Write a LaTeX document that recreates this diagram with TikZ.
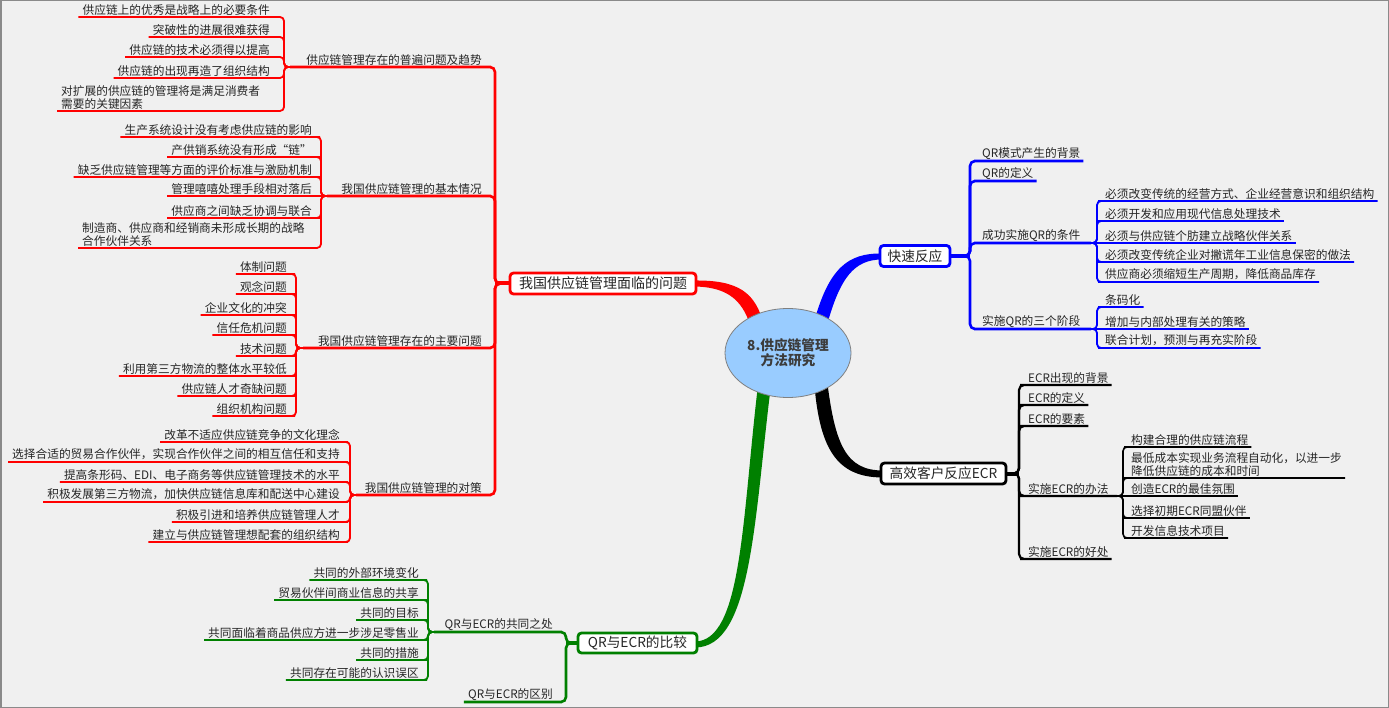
\documentclass[tikz,border=0pt]{standalone}
\usepackage{fontspec}
\setmainfont{Noto Sans CJK SC}
\usetikzlibrary{shapes.geometric}
\definecolor{bg}{HTML}{F0F0F0}
\definecolor{framec}{HTML}{8A8A8A}
\definecolor{txt}{HTML}{262626}
\definecolor{cred}{HTML}{FF0000}
\definecolor{cblue}{HTML}{0000FF}
\definecolor{cgreen}{HTML}{008000}
\definecolor{cblack}{HTML}{000000}
\definecolor{centerfill}{HTML}{99CCFF}
\definecolor{centerline}{HTML}{808080}
\tikzset{
  every node/.style={text=txt},
  lf/.style={inner xsep=4pt, inner ysep=1.6pt, font=\fontsize{11.7pt}{12.5pt}\selectfont, align=left},
  lfL/.style={lf, anchor=south east},
  lfL2/.style={lf, anchor=south west},
  lfR/.style={lf, anchor=south west, inner xsep=3pt},
  leafline/.style={line width=1.8pt, rounded corners=4pt},
  lvlline/.style={line width=2.6pt, rounded corners=5pt},
  stemline/.style={line width=4pt},
  mbox/.style={draw, fill=white, line width=2.8pt, rounded corners=3.5pt, inner sep=0pt, font=\fontsize{13.7pt}{14pt}\selectfont},
}
\begin{document}
\begin{tikzpicture}[x=1pt,y=-1pt]
\useasboundingbox (0,0) rectangle (1389,708);
\fill[bg] (0,0) rectangle (1389,708);
\draw[framec,line width=1.5pt] (0.75,0.75) rectangle (1388.25,707.25);

% ---------- thick main branches ----------
\fill[cred] (694,280.5) .. controls (738,280) and (756,292) .. (764,326) -- (752,331) .. controls (744,302) and (730,287) .. (694,286.5) -- cycle;
\fill[cblue] (882,253.5) .. controls (848,253) and (829,268) .. (814,322) -- (827,325) .. controls (840,278) and (854,259.5) .. (882,259.5) -- cycle;
\fill[cblack] (814,380) .. controls (819,448) and (836,477.5) .. (883,477.5) -- (883,470.5) .. controls (846,470.5) and (835,445) .. (827,380) -- cycle;
\fill[cgreen] (758,385) .. controls (742,520) and (742,641) .. (695,641.5) -- (695,647.5) .. controls (752,647.5) and (754,520) .. (771,385) -- cycle;

% ---------- central topic ----------
\node[ellipse, draw=centerline, line width=0.8pt, fill=centerfill, minimum width=126pt, minimum height=89pt, inner sep=0pt, align=center, font=\fontsize{13.7pt}{14.5pt}\selectfont\bfseries, text=txt!90] (C) at (788,353) {8.供应链管理\\方法研究};

% ---------- main boxes ----------
\node[mbox, draw=cred, minimum width=186pt, minimum height=21pt, font=\fontsize{14pt}{15pt}\selectfont] (R) at (603,283.5) {我国供应链管理面临的问题};
\node[mbox, draw=cblue, minimum width=70pt, minimum height=21pt] (B) at (915,256) {快速反应};
\node[mbox, draw=cblack, minimum width=125pt, minimum height=21pt] (K) at (943.5,473.5) {高效客户反应ECR};
\node[mbox, draw=cgreen, minimum width=119pt, minimum height=20pt] (G) at (637.5,643) {QR与ECR的比较};

% ---------- junction coordinates ----------
\coordinate (TR) at (495,283.5);
\coordinate (T1) at (284,67);   \coordinate (J1) at (290,67);
\coordinate (T2) at (321,196);  \coordinate (J2) at (327,196);
\coordinate (T3) at (296,348);  \coordinate (J3) at (303,348);
\coordinate (T4) at (350,495);  \coordinate (J4) at (356,495);
\coordinate (TB) at (970,256);
\coordinate (JQ3) at (1091,243); \coordinate (TQ3) at (1097,243);
\coordinate (JQ4) at (1091,329); \coordinate (TQ4) at (1097,329);
\coordinate (TK) at (1019,473.5);
\coordinate (JE4) at (1117,496); \coordinate (TE4) at (1123,496);
\coordinate (TG) at (566,643);
\coordinate (TG1) at (428,632);  \coordinate (JG1) at (434,632);

% ---------- red: level 1 ----------
\node[lfL] (P1) at (486,67) {供应链管理存在的普遍问题及趋势};
\node[lfL] (P2) at (486,196) {我国供应链管理的基本情况};
\node[lfL] (P3) at (486,348) {我国供应链管理存在的主要问题};
\node[lfL] (P4) at (486,495) {我国供应链管理的对策};

% red group 1
\node[lfL] (a1) at (274,17) {供应链上的优秀是战略上的必要条件};
\node[lfL] (a2) at (274,37) {突破性的进展很难获得};
\node[lfL] (a3) at (274,57) {供应链的技术必须得以提高};
\node[lfL] (a4) at (274,78) {供应链的出现再造了组织结构};
\node[lfL2] (a5) at (57,111) {对扩展的供应链的管理将是满足消费者\\需要的关键因素};
% red group 2
\node[lfL] (b1) at (316,137) {生产系统设计没有考虑供应链的影响};
\node[lfL] (b2) at (316,157) {产供销系统没有形成“链”};
\node[lfL] (b3) at (316,177) {缺乏供应链管理等方面的评价标准与激励机制};
\node[lfL] (b4) at (316,196) {管理嘻嘻处理手段相对落后};
\node[lfL] (b5) at (316,218) {供应商之间缺乏协调与联合};
\node[lfL2] (b6) at (78,248) {制造商、供应商和经销商未形成长期的战略\\合作伙伴关系};
% red group 3
\node[lfL] (c1) at (291,274) {体制问题};
\node[lfL] (c2) at (291,294) {观念问题};
\node[lfL] (c3) at (291,315) {企业文化的冲突};
\node[lfL] (c4) at (291,335) {信任危机问题};
\node[lfL] (c5) at (291,356) {技术问题};
\node[lfL] (c6) at (291,376) {利用第三方物流的整体水平较低};
\node[lfL] (c7) at (291,396) {供应链人才奇缺问题};
\node[lfL] (c8) at (291,416) {组织机构问题};
% red group 4
\node[lfL] (d1) at (344,442) {改革不适应供应链竞争的文化理念};
\node[lfL] (d2) at (344,462) {选择合适的贸易合作伙伴，实现合作伙伴之间的相互信任和支持};
\node[lfL] (d3) at (344,482) {提高条形码、EDI、电子商务等供应链管理技术的水平};
\node[lfL] (d4) at (344,502) {积极发展第三方物流，加快供应链信息库和配送中心建设};
\node[lfL] (d5) at (344,522) {积极引进和培养供应链管理人才};
\node[lfL] (d6) at (344,542) {建立与供应链管理想配套的组织结构};

% ---------- green ----------
\node[lfL] (g1) at (557,632) {QR与ECR的共同之处};
\node[lfL] (g2) at (557,702) {QR与ECR的区别};
\node[lfL] (h1) at (423,580) {共同的外部环境变化};
\node[lfL] (h2) at (423,600) {贸易伙伴间商业信息的共享};
\node[lfL] (h3) at (423,620) {共同的目标};
\node[lfL] (h4) at (423,640) {共同面临着商品供应方进一步涉足零售业};
\node[lfL] (h5) at (423,660) {共同的措施};
\node[lfL] (h6) at (423,680) {共同存在可能的认识误区};

% ---------- blue ----------
\node[lfR] (q1) at (979,161) {QR模式产生的背景};
\node[lfR] (q2) at (979,181) {QR的定义};
\node[lfR] (q3) at (979,243) {成功实施QR的条件};
\node[lfR] (q4) at (979,329) {实施QR的三个阶段};
\node[lfR] (r1) at (1102,201) {必须改变传统的经营方式、企业经营意识和组织结构};
\node[lfR] (r2) at (1102,221) {必须开发和应用现代信息处理技术};
\node[lfR] (r3) at (1102,243) {必须与供应链个肪建立战略伙伴关系};
\node[lfR] (r4) at (1102,262) {必须改变传统企业对撇谎年工业信息保密的做法};
\node[lfR] (r5) at (1102,282) {供应商必须缩短生产周期，降低商品库存};
\node[lfR] (s1) at (1102,307) {条码化};
\node[lfR] (s2) at (1102,329) {增加与内部处理有关的策略};
\node[lfR] (s3) at (1102,348) {联合计划，预测与再充实阶段};

% ---------- black ----------
\node[lfR] (e1) at (1025,385) {ECR出现的背景};
\node[lfR] (e2) at (1025,405) {ECR的定义};
\node[lfR] (e3) at (1025,426) {ECR的要素};
\node[lfR] (e4) at (1025,496) {实施ECR的办法};
\node[lfR] (e5) at (1025,559) {实施ECR的好处};
\node[lfR] (f1) at (1128,447) {构建合理的供应链流程};
\node[lfR] (f2) at (1128,478) {最低成本实现业务流程自动化，以进一步\\降低供应链的成本和时间};
\node[lfR] (f3) at (1128,496) {创造ECR的最佳氛围};
\node[lfR] (f4) at (1128,518) {选择初期ECR同盟伙伴};
\node[lfR] (f5) at (1128,538) {开发信息技术项目};

% ---------- connectors: red ----------
\draw[stemline,cred] (R.west) -- (TR);
\foreach \n/\j in {P1/J1,P2/J2,P3/J3,P4/J4}
  \draw[lvlline,cred] (\j) -- (\n.south east) -| (TR) -- (R.west);
\foreach \n in {a1,a2,a3,a4,a5}
  \draw[leafline,cred] (\n.south west) -- (\n.south east) -| (T1) -- (J1);
\foreach \n in {b1,b2,b3,b5,b6}
  \draw[leafline,cred] (\n.south west) -- (\n.south east) -| (T2) -- (J2);
\draw[leafline,cred] (b4.south west) -- (J2);
\foreach \n in {c1,c2,c3,c4,c5,c6,c7,c8}
  \draw[leafline,cred] (\n.south west) -- (\n.south east) -| (T3) -- (J3);
\foreach \n in {d1,d2,d3,d4,d5,d6}
  \draw[leafline,cred] (\n.south west) -- (\n.south east) -| (T4) -- (J4);

% ---------- connectors: green ----------
\draw[stemline,cgreen] (G.west) -- (TG);
\draw[lvlline,cgreen] (JG1) -- (g1.south east) -| (TG) -- (G.west);
\draw[lvlline,cgreen] (g2.south west) -- (g2.south east) -| (TG) -- (G.west);
\foreach \n in {h1,h2,h3,h4,h5,h6}
  \draw[leafline,cgreen] (\n.south west) -- (\n.south east) -| (TG1) -- (JG1);

% ---------- connectors: blue ----------
\draw[stemline,cblue] (B.east) -- (TB);
\foreach \n in {q1,q2}
  \draw[lvlline,cblue] (B.east) -- (TB) |- (\n.south west) -- (\n.south east);
\draw[lvlline,cblue] (B.east) -- (TB) |- (q3.south west) -- (JQ3);
\draw[lvlline,cblue] (B.east) -- (TB) |- (q4.south west) -- (JQ4);
\foreach \n in {r1,r2,r4,r5}
  \draw[leafline,cblue] (JQ3) -- (TQ3) |- (\n.south west) -- (\n.south east);
\draw[leafline,cblue] (JQ3) -- (r3.south east);
\foreach \n in {s1,s3}
  \draw[leafline,cblue] (JQ4) -- (TQ4) |- (\n.south west) -- (\n.south east);
\draw[leafline,cblue] (JQ4) -- (s2.south east);

% ---------- connectors: black ----------
\draw[stemline,cblack] (K.east) -- (TK);
\foreach \n in {e1,e2,e3,e5}
  \draw[lvlline,line width=2.2pt,cblack] (K.east) -- (TK) |- (\n.south west) -- (\n.south east);
\draw[lvlline,line width=2.2pt,cblack] (K.east) -- (TK) |- (e4.south west) -- (JE4);
\foreach \n in {f1,f2,f4,f5}
  \draw[leafline,line width=1.6pt,cblack] (JE4) -- (TE4) |- (\n.south west) -- (\n.south east);
\draw[leafline,line width=1.6pt,cblack] (JE4) -- (f3.south east);
\end{tikzpicture}
\end{document}
